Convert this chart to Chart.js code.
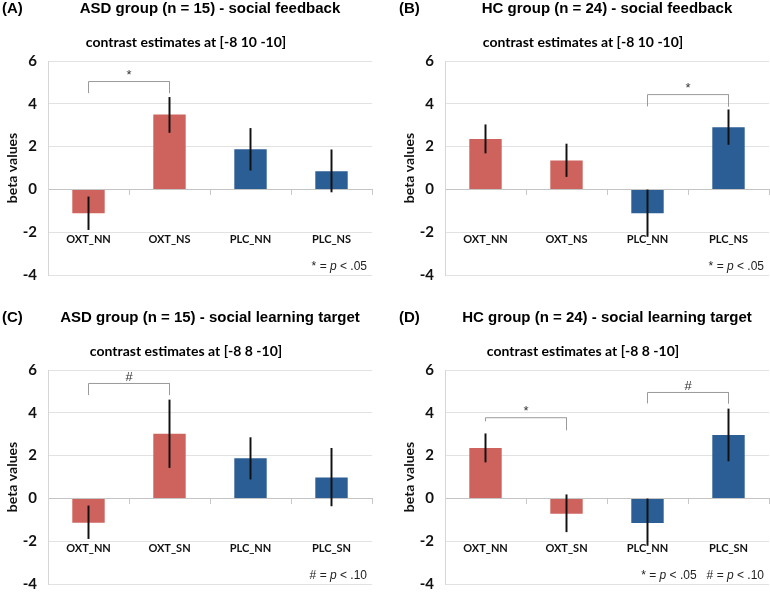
<!DOCTYPE html>
<html>
<head>
<meta charset="utf-8">
<script src="https://cdn.jsdelivr.net/npm/chart.js@4.4.1/dist/chart.umd.min.js"></script>
<style>
  html, body { margin: 0; padding: 0; background: #fff; overflow: hidden; }
  #figure { position: relative; width: 770px; height: 592px; overflow: hidden; }
  .panel { position: absolute; width: 397px; height: 309px; }
</style>
</head>
<body>
<div id="figure">
  <div class="panel" style="left:0;top:0"><canvas id="chartA" width="397" height="309"></canvas></div>
  <div class="panel" style="left:397px;top:0"><canvas id="chartB" width="397" height="309"></canvas></div>
  <div class="panel" style="left:0;top:309px"><canvas id="chartC" width="397" height="309"></canvas></div>
  <div class="panel" style="left:397px;top:309px"><canvas id="chartD" width="397" height="309"></canvas></div>
</div>
<script>
// category labels
const feedbackLabels = ['OXT_NN', 'OXT_NS', 'PLC_NN', 'PLC_NS'];
const learningLabels = ['OXT_NN', 'OXT_SN', 'PLC_NN', 'PLC_SN'];

// y axis ticks
const yTicks = [-4, -2, 0, 2, 4, 6];

// (A) ASD - social feedback
const asdFeedbackBeta = [-1.12, 3.5, 1.88, 0.85];
const asdFeedbackLow  = [-1.88, 2.66, 0.9, -0.12];
const asdFeedbackHigh = [-0.35, 4.3, 2.85, 1.85];

// (B) HC - social feedback
const hcFeedbackBeta = [2.35, 1.35, -1.12, 2.9];
const hcFeedbackLow  = [1.7, 0.6, -2.2, 2.1];
const hcFeedbackHigh = [3.02, 2.12, 0, 3.72];

// (C) ASD - social learning target
const asdLearningBeta = [-1.14, 3.02, 1.88, 0.98];
const asdLearningLow  = [-1.88, 1.44, 0.9, -0.35];
const asdLearningHigh = [-0.35, 4.6, 2.84, 2.34];

// (D) HC - social learning target
const hcLearningBeta = [2.36, -0.72, -1.15, 2.96];
const hcLearningLow  = [1.7, -1.56, -2.2, 1.75];
const hcLearningHigh = [3.02, 0.17, 0, 4.18];

// significance brackets: [from, to, top, leftEnd, rightEnd, mark]
const asdFeedbackSig = [[0, 1, 5.04, 4.5, 4.5, '*']];
const hcFeedbackSig  = [[2, 3, 4.43, 3.88, 3.88, '*']];
const asdLearningSig = [[0, 1, 5.37, 4.83, 4.83, '#']];
const hcLearningSig  = [[0, 1, 3.77, 3.6, 3.19, '*'], [2, 3, 4.95, 4.44, 4.44, '#']];

const RED = '#cd635c';
const BLUE = '#2b5e95';
const barColors = [RED, RED, BLUE, BLUE];

const panelText = {
    id: 'panelText',
    afterDatasetsDraw(chart, args, opts) {
        const ctx = chart.ctx;
        const x = chart.scales.x;
        const y = chart.scales.y;
        ctx.save();
        ctx.fillStyle = '#000';
        ctx.textBaseline = 'middle';

        ctx.font = 'bold 15px "Liberation Sans", Arial, sans-serif';
        ctx.textAlign = 'left';
        ctx.fillText(opts.letter, 2, 9);
        ctx.textAlign = 'center';
        ctx.fillText(opts.title, 210, 9);

        ctx.font = 'bold 14px Lato, sans-serif';
        ctx.fillText(opts.subtitle, 186, 42);

        // marks above brackets
        ctx.fillStyle = '#333';
        ctx.font = '13px "Liberation Sans", Arial, sans-serif';
        opts.sig.forEach(s => {
            const cx = (x.getPixelForValue(s[0]) + x.getPixelForValue(s[1])) / 2;
            ctx.fillText(s[5], cx, y.getPixelForValue(s[2] + 0.3));
        });

        // p-value note, right aligned
        ctx.fillStyle = '#222';
        const parts = [];
        opts.note.forEach((n, i) => {
            if (i > 0) parts.push(['   ', false]);
            parts.push([n[0] + ' = ', false], ['p', true], [' < ' + n[1], false]);
        });
        const fontOf = it => (it ? 'italic ' : '') + '12px "Liberation Sans", Arial, sans-serif';
        let total = 0;
        parts.forEach(p => { ctx.font = fontOf(p[1]); total += ctx.measureText(p[0]).width; });
        let px = 367 - total;
        const py = y.getPixelForValue(-3.62);
        ctx.textAlign = 'left';
        parts.forEach(p => {
            ctx.font = fontOf(p[1]);
            ctx.fillText(p[0], px, py);
            px += ctx.measureText(p[0]).width;
        });
        ctx.restore();
    }
};

function bracketData(sig, labels) {
    return sig.map(s => ({
        type: 'line',
        data: [
            { x: labels[s[0]], y: s[3] }, { x: labels[s[0]], y: s[2] },
            { x: labels[s[1]], y: s[2] }, { x: labels[s[1]], y: s[4] }
        ],
        borderColor: '#9a9a9a',
        borderWidth: 1,
        pointRadius: 0,
        tension: 0,
        order: 2
    }));
}

function makePanel(canvasId, letter, title, subtitle, labels, beta, low, high, sig, note) {
    new Chart(document.getElementById(canvasId), {
        type: 'bar',
        data: {
            labels: labels,
            datasets: [{
                data: labels.map((l, i) => [low[i], high[i]]),
                backgroundColor: '#111',
                grouped: false,
                barThickness: 1.3,
                order: 0
            }, {
                data: beta,
                backgroundColor: barColors,
                grouped: false,
                categoryPercentage: 1,
                barPercentage: 0.4,
                order: 1
            }].concat(bracketData(sig, labels))
        },
        options: {
            responsive: false,
            animation: false,
            layout: { padding: { top: 61, right: 25, bottom: 34, left: 0 } },
            plugins: {
                legend: { display: false },
                tooltip: { enabled: false },
                panelText: { letter, title, subtitle, sig, note }
            },
            scales: {
                x: {
                    position: { y: 0 },
                    grid: { display: true, drawOnChartArea: false, drawTicks: true, tickLength: 5, color: '#c8c8c8' },
                    border: { display: true, color: '#c4c4c4' },
                    ticks: { color: '#111', padding: 38.4, font: { family: 'Lato', weight: 'bold', size: 11 } }
                },
                y: {
                    min: yTicks[0],
                    max: yTicks[yTicks.length - 1],
                    afterBuildTicks: axis => { axis.ticks = yTicks.map(v => ({ value: v })); },
                    afterFit: axis => { axis.width = 48; },
                    grid: { color: '#e2e2e2', drawTicks: false },
                    border: { display: true, color: '#d6d6d6' },
                    ticks: { color: '#111', padding: 11, font: { family: 'Lato', weight: 'bold', size: 15 } },
                    title: {
                        display: true,
                        text: 'beta values',
                        color: '#111',
                        padding: { top: 4, bottom: 0 },
                        font: { family: 'Lato', weight: 'bold', size: 14 }
                    }
                }
            }
        },
        plugins: [panelText]
    });
}

makePanel('chartA', '(A)', 'ASD group (n = 15) - social feedback', 'contrast estimates at [-8 10 -10]',
    feedbackLabels, asdFeedbackBeta, asdFeedbackLow, asdFeedbackHigh, asdFeedbackSig, [['*', '.05']]);
makePanel('chartB', '(B)', 'HC group (n = 24) - social feedback', 'contrast estimates at [-8 10 -10]',
    feedbackLabels, hcFeedbackBeta, hcFeedbackLow, hcFeedbackHigh, hcFeedbackSig, [['*', '.05']]);
makePanel('chartC', '(C)', 'ASD group (n = 15) - social learning target', 'contrast estimates at [-8 8 -10]',
    learningLabels, asdLearningBeta, asdLearningLow, asdLearningHigh, asdLearningSig, [['#', '.10']]);
makePanel('chartD', '(D)', 'HC group (n = 24) - social learning target', 'contrast estimates at [-8 8 -10]',
    learningLabels, hcLearningBeta, hcLearningLow, hcLearningHigh, hcLearningSig, [['*', '.05'], ['#', '.10']]);
</script>
</body>
</html>
